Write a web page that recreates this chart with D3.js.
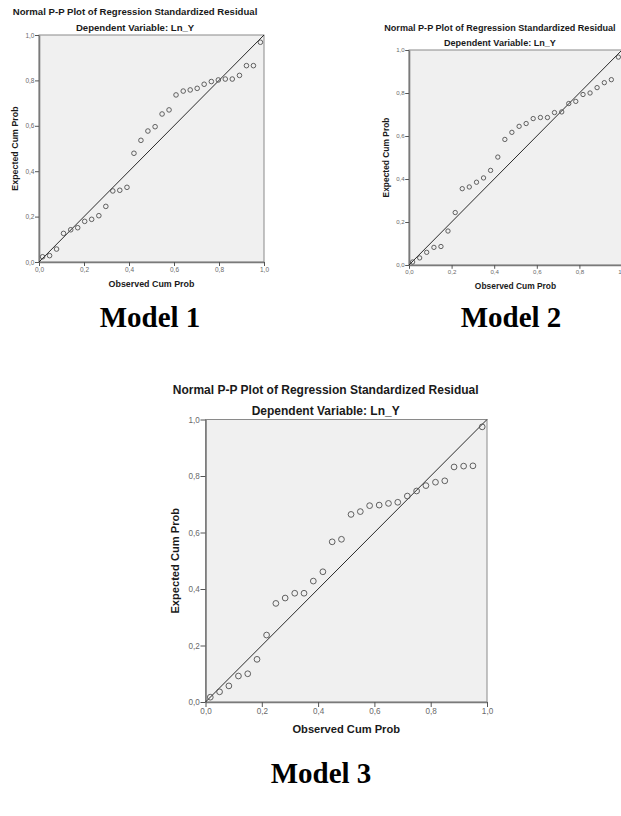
<!DOCTYPE html>
<html>
<head>
<meta charset="utf-8">
<script src="https://cdnjs.cloudflare.com/ajax/libs/d3/7.8.5/d3.min.js"></script>
<style>
  body { margin: 0; background: #fff; }
  svg { display: block; }
  .sans { font-family: "Liberation Sans", Arial, sans-serif; }
  .caption { font-family: "Liberation Serif", "Times New Roman", serif; font-weight: bold; fill: #000; }
</style>
</head>
<body>
<script>
// tick values shared by both axes of every plot
const tickValues = [0, 0.2, 0.4, 0.6, 0.8, 1.0];

const titleText = "Normal P-P Plot of Regression Standardized Residual";
const subtitleText = "Dependent Variable: Ln_Y";
const xLabelText = "Observed Cum Prob";
const yLabelText = "Expected Cum Prob";
const captions = ["Model 1", "Model 2", "Model 3"];

// Model 1 (32 residuals)
const model1Observed = [0.016,0.047,0.078,0.109,0.141,0.172,0.203,0.234,0.266,0.297,0.328,0.359,0.391,0.422,0.453,0.484,
                        0.516,0.547,0.578,0.609,0.641,0.672,0.703,0.734,0.766,0.797,0.828,0.859,0.891,0.922,0.953,0.984];
const model1Expected = [0.023,0.028,0.057,0.126,0.142,0.151,0.179,0.188,0.204,0.245,0.313,0.316,0.329,0.479,0.536,0.577,
                        0.596,0.652,0.670,0.736,0.753,0.758,0.765,0.783,0.795,0.802,0.806,0.806,0.822,0.865,0.865,0.968];

// Model 2 (30 residuals)
const model2Observed = [0.017,0.050,0.083,0.117,0.150,0.183,0.217,0.250,0.283,0.317,0.350,0.383,0.417,0.450,0.483,
                        0.517,0.550,0.583,0.617,0.650,0.683,0.717,0.750,0.783,0.817,0.850,0.883,0.917,0.950,0.983];
const model2Expected = [0.014,0.033,0.059,0.082,0.086,0.158,0.244,0.355,0.363,0.385,0.405,0.440,0.502,0.584,0.617,
                        0.645,0.658,0.681,0.686,0.686,0.709,0.712,0.751,0.761,0.793,0.800,0.825,0.848,0.862,0.967];

// Model 3 (30 residuals)
const model3Observed = [0.017,0.050,0.083,0.117,0.150,0.183,0.217,0.250,0.283,0.317,0.350,0.383,0.417,0.450,0.483,
                        0.517,0.550,0.583,0.617,0.650,0.683,0.717,0.750,0.783,0.817,0.850,0.883,0.917,0.950,0.983];
const model3Expected = [0.017,0.036,0.057,0.092,0.100,0.151,0.237,0.349,0.368,0.385,0.385,0.428,0.461,0.567,0.576,
                        0.664,0.674,0.695,0.697,0.703,0.707,0.729,0.747,0.766,0.778,0.783,0.832,0.835,0.836,0.974];

var W = 621, H = 816;
var svg = d3.select("body").append("svg").attr("width", W).attr("height", H);

var fmt = d3.formatLocale({decimal: ",", thousands: ".", grouping: [3], currency: ["", ""]}).format(".1f");

function drawPP(cfg, observed, expected) {
  var k = cfg.w / 225;
  var g = svg.append("g").attr("class", "sans");

  var x = d3.scaleLinear().domain([0, 1]).range([cfg.left, cfg.left + cfg.w]);
  var y = d3.scaleLinear().domain([0, 1]).range([cfg.top + cfg.h, cfg.top]);

  g.append("rect")
    .attr("x", x(0)).attr("y", y(1))
    .attr("width", cfg.w).attr("height", cfg.h)
    .style("fill", "#f0f0f0")
    .style("stroke", "#8a8a8a")
    .style("stroke-width", 1);

  var xAxis = d3.axisBottom(x).tickValues(tickValues).tickFormat(fmt)
    .tickSize(4 * k).tickSizeOuter(0).tickPadding(1 * k);
  var yAxis = d3.axisLeft(y).tickValues(tickValues).tickFormat(fmt)
    .tickSize(4 * k).tickSizeOuter(0).tickPadding(0.5 * k);

  var gx = g.append("g").attr("transform", "translate(0," + y(0) + ")").call(xAxis);
  var gy = g.append("g").attr("transform", "translate(" + x(0) + ",0)").call(yAxis);
  [gx, gy].forEach(function(a) {
    a.select(".domain").style("stroke", "#7a7a7a").style("stroke-width", 1.6);
    a.selectAll(".tick line").style("stroke", "#555");
    a.selectAll(".tick text")
      .style("font-family", "'Liberation Sans', Arial, sans-serif")
      .style("font-size", (6.5 * k) + "px")
      .style("fill", "#6a6a6a");
  });

  // reference diagonal
  g.append("line")
    .attr("x1", x(0)).attr("y1", y(0))
    .attr("x2", x(1)).attr("y2", y(1))
    .style("stroke", "#2a2a2a").style("stroke-width", 1);

  g.selectAll("circle.pt")
    .data(observed.map(function(d, i) { return [d, expected[i]]; }))
    .enter().append("circle")
    .attr("class", "pt")
    .attr("cx", function(d) { return x(d[0]); })
    .attr("cy", function(d) { return y(d[1]); })
    .attr("r", 2.3 * k)
    .style("fill", "none")
    .style("stroke", "#505050")
    .style("stroke-width", 0.9);

  var cx = cfg.left + 0.427 * cfg.w;
  g.append("text")
    .attr("x", cx).attr("y", cfg.top - 20.5 * k)
    .attr("text-anchor", "middle")
    .style("font-size", (9.6 * k) + "px").style("font-weight", "bold").style("fill", "#1a1a1a")
    .text(titleText);
  g.append("text")
    .attr("x", cx).attr("y", cfg.top - 3.8 * k)
    .attr("text-anchor", "middle")
    .style("font-size", (9.6 * k) + "px").style("font-weight", "bold").style("fill", "#1a1a1a")
    .text(subtitleText);

  g.append("text")
    .attr("x", cfg.left + cfg.w / 2).attr("y", cfg.top + cfg.h + 25 * k)
    .attr("text-anchor", "middle")
    .style("font-size", (8.9 * k) + "px").style("font-weight", "bold").style("fill", "#1a1a1a")
    .text(xLabelText);
  g.append("text")
    .attr("transform", "translate(" + (cfg.left - 21 * k) + "," + (cfg.top + cfg.h / 2) + ") rotate(-90)")
    .attr("text-anchor", "middle")
    .style("font-size", (8.9 * k) + "px").style("font-weight", "bold").style("fill", "#1a1a1a")
    .text(yLabelText);
}

var layout = [
  {left: 39, top: 35, w: 225, h: 227},
  {left: 409, top: 50, w: 213, h: 215},
  {left: 205.5, top: 419.5, w: 281.5, h: 282.5}
];

drawPP(layout[0], model1Observed, model1Expected);
drawPP(layout[1], model2Observed, model2Expected);
drawPP(layout[2], model3Observed, model3Expected);

var capPos = [[150, 327], [511, 327], [321, 783]];
svg.selectAll("text.caption")
  .data(captions)
  .enter().append("text")
  .attr("class", "caption")
  .attr("x", function(d, i) { return capPos[i][0]; })
  .attr("y", function(d, i) { return capPos[i][1]; })
  .attr("text-anchor", "middle")
  .style("font-size", "29px")
  .text(function(d) { return d; });
</script>
</body>
</html>
